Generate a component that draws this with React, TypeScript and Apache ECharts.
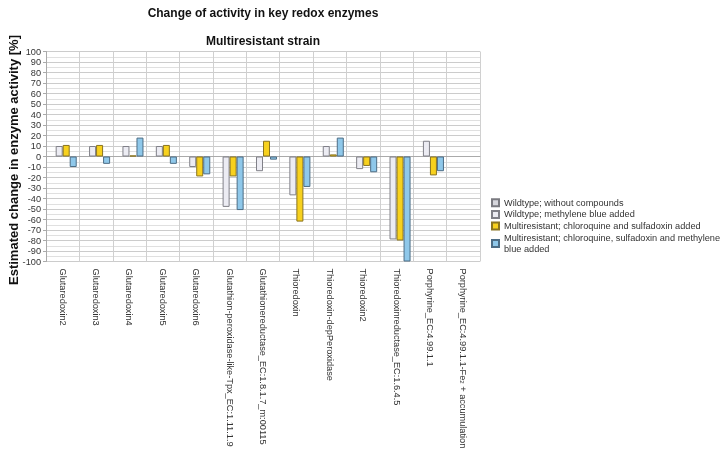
import React, { useEffect, useRef } from "react";
import * as echarts from "echarts";

const categories = [
  "Glutaredoxin2",
  "Glutaredoxin3",
  "Glutaredoxin4",
  "Glutaredoxin5",
  "Glutaredoxin6",
  "Glutathion-peroxidase-like-Tpx_EC:1.11.1.9",
  "Glutathionereductase_EC:1.8.1.7_m:00115",
  "Thioredoxin",
  "Thioredoxin-depPeroxidase",
  "Thioredoxin2",
  "Thioredoxinreductase_EC:1.6.4.5",
  "Porphyrine_EC:4.99.1.1",
  "Porphyrine_EC:4.99.1.1-Fe2 + accumulation",
];

const seriesNames = [
  "Wildtype; without compounds",
  "Wildtype; methylene blue added",
  "Multiresistant; chloroquine and sulfadoxin added",
  "Multiresistant; chloroquine, sulfadoxin and methylene blue added",
];

const wildNoCompound: (number | null)[] = [null, null, null, null, null, null, null, null, null, null, null, null, null];
const wildMethylene: (number | null)[] = [10, 10, 10, 10, -10, -48, -14, -37, 10, -12, -79, 15, null];
const multiCqSdx: (number | null)[] = [11, 11, 1, 11, -19, -19, 15, -62, 2, -9, -80, -18, null];
const multiCqSdxMb: (number | null)[] = [-10, -7, 18, -7, -17, -51, -3, -29, 18, -15, -100, -14, null];

const yTickMin = -100;
const yTickMax = 100;
const yTickStep = 10;

const fills = ["#d6d6dc", "#ececf3", "#f7d11e", "#8fc8ea"];
const borders = ["#7a7a80", "#808088", "#8a7420", "#4d6d85"];

export default function App() {
  const ref = useRef<HTMLDivElement>(null);
  useEffect(() => {
    if (!ref.current) return;
    const chart = echarts.init(ref.current, null, { renderer: "svg" });
    const dataSets = [wildNoCompound, wildMethylene, multiCqSdx, multiCqSdxMb];
    chart.setOption({
      animation: false,
      textStyle: { fontFamily: "Liberation Sans, Arial, sans-serif" },
      graphic: [
        {
          type: "text",
          x: 263,
          y: 13,
          style: {
            text: "Change of activity in key redox enzymes",
            fontSize: 12,
            fontWeight: "bold",
            fontFamily: "Liberation Sans, Arial, sans-serif",
            fill: "#111",
            align: "center",
            verticalAlign: "middle",
          },
        },
        {
          type: "text",
          x: 263,
          y: 41,
          style: {
            text: "Multiresistant strain",
            fontSize: 12,
            fontWeight: "bold",
            fontFamily: "Liberation Sans, Arial, sans-serif",
            fill: "#111",
            align: "center",
            verticalAlign: "middle",
          },
        },
        {
          type: "text",
          x: 13,
          y: 160,
          rotation: Math.PI / 2,
          style: {
            text: "Estimated change in enzyme activity [%]",
            fontSize: 13,
            fontWeight: "bold",
            fontFamily: "Liberation Sans, Arial, sans-serif",
            fill: "#111",
            align: "center",
            verticalAlign: "middle",
          },
        },
      ],
      legend: {
        orient: "vertical",
        left: 491,
        top: 197,
        padding: 0,
        itemWidth: 7,
        itemHeight: 7,
        itemGap: 0,
        icon: "rect",
        textStyle: { fontSize: 9.2, color: "#333", lineHeight: 11.6 },
        formatter: (name: string) =>
          name === seriesNames[3]
            ? "Multiresistant; chloroquine, sulfadoxin and methylene\nblue added"
            : name,
        data: seriesNames,
      },
      grid: { left: 46, right: 243, top: 51.5, bottom: 194.5, containLabel: false },
      xAxis: {
        type: "category",
        data: categories,
        axisLine: { show: true, lineStyle: { color: "#aaa" } },
        axisTick: { show: false },
        splitLine: { show: true, lineStyle: { color: "#d0d0d0" } },
        axisLabel: {
          interval: 0,
          rotate: -90,
          fontSize: 9.2,
          color: "#333",
          margin: 7,
          formatter: (v: string) =>
            v.indexOf("-Fe2") >= 0 ? v.replace("-Fe2", "-Fe{sub|2}") : v,
          rich: { sub: { fontSize: 6, verticalAlign: "bottom", color: "#333" } },
        },
      },
      yAxis: {
        type: "value",
        min: yTickMin,
        max: yTickMax,
        interval: yTickStep,
        axisLine: { show: true, lineStyle: { color: "#aaa" } },
        axisTick: { show: true, length: 3, lineStyle: { color: "#aaa" } },
        axisLabel: { fontSize: 9.2, color: "#333", margin: 5 },
        splitLine: { show: true, lineStyle: { color: "#cccccc" } },
        minorTick: { show: false, splitNumber: 2 },
        minorSplitLine: { show: true, lineStyle: { color: "#e0e0e0" } },
      },
      series: seriesNames.map((name, i) => ({
        name,
        type: "bar",
        data: dataSets[i],
        barGap: "0%",
        barCategoryGap: "16%",
        itemStyle: { color: fills[i], borderColor: borders[i], borderWidth: 1 },
      })),
    });
    return () => chart.dispose();
  }, []);
  return (
    <div
      ref={ref}
      style={{ position: "fixed", left: 0, top: 0, width: 723, height: 456 }}
    />
  );
}
